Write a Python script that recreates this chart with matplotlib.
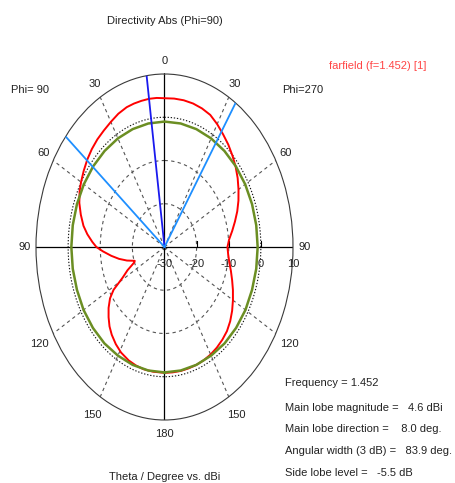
import numpy as np
import matplotlib
matplotlib.use("Agg")
import matplotlib.pyplot as plt

plt.rcParams['font.family'] = ['Liberation Sans', 'DejaVu Sans']

# ---------------- data ----------------
# Red farfield curve: theta (deg) on the Phi=270 side (right) and Phi=90 side (left), directivity in dBi
red_right_theta = [0, 5, 10, 15, 20, 25, 30, 35, 40, 45, 50, 55, 60, 65, 70, 75, 80, 85, 90,
                   95, 100, 105, 110, 115, 120, 125, 130, 135, 140, 145, 150, 155, 160, 165, 170, 175, 180]
red_right_db = [4.4, 4.45, 4.45, 4.35, 4.1, 3.7, 2.8, 1.8, 0.9, -0.1, -1.1, -2.2, -3.4, -4.6, -5.9, -7.3, -8.6, -9.8, -10.4,
                -10.1, -9.5, -8.6, -7.6, -6.5, -5.4, -4.3, -3.3, -2.5, -2.0, -1.6, -1.3, -1.1, -1.0, -0.95, -0.9, -0.9, -0.9]

red_left_theta = [0, 4, 8, 12, 16, 20, 25, 30, 35, 40, 45, 50, 55, 60, 64, 69, 74, 79, 83, 87, 90,
                  93, 97, 101, 105, 109, 110.5, 112, 115, 118.5, 122, 125, 129, 133, 137, 141, 146, 151,
                  157, 162, 167, 173, 180]
red_left_db = [4.4, 4.55, 4.6, 4.55, 4.5, 4.4, 4.0, 3.4, 2.9, 2.5, 2.0, 1.4, 0.7, 0.0, -0.6, -1.6, -2.9, -4.3, -5.8, -7.5, -8.8,
               -10.8, -13.3, -15.6, -17.9, -20.2, -20.0, -19.3, -17.3, -15.2, -11.3, -9.3, -7.6, -6.2, -4.9, -3.9, -2.9, -2.1,
               -1.5, -1.2, -1.0, -0.95, -0.9]

# Green curve (signed theta: negative = Phi=90 side)
green_theta = list(range(-180, 181, 10))
green_db = [-1.0] * 4 + [-0.9] * 3 + [-1.0] * 23 + [-0.9] * 3 + [-1.0] * 4

# Main lobe and 3 dB beam-width directions (signed theta)
main_lobe_dir = -8.0
beam_edges = [-50.3, 33.6]

# Axis scale
r_min, r_max = -30, 10
radial_ticks = [-30, -20, -10, 0, 10]
angle_label_pos = [0, 30, 60, 90, 120, 150, 180, -150, -120, -90, -60, -30]
angle_label_txt = ['0', '30', '60', '90', '120', '150', '180', '150', '120', '90', '60', '30']

title = "Directivity Abs (Phi=90)"
legend_txt = "farfield (f=1.452) [1]"
xlabel = "Theta / Degree vs. dBi"
info_lines = ["Frequency = 1.452",
              "Main lobe magnitude =   4.6 dBi",
              "Main lobe direction =    8.0 deg.",
              "Angular width (3 dB) =   83.9 deg.",
              "Side lobe level =   -5.5 dB"]

# ---------------- figure ----------------
W, H = 455, 483
fig = plt.figure(figsize=(W / 100, H / 100), dpi=100)
fig.patch.set_facecolor('white')

ax = fig.add_axes([36 / W, 1 - 420 / H, 257 / W, 346 / H], projection='polar')
ax.set_aspect('auto')
ax.set_theta_zero_location('N')
ax.set_theta_direction(-1)
ax.set_ylim(r_min, r_max)
ax.set_xticks([])
ax.set_yticks([])
ax.grid(False)
ax.spines['polar'].set_color('#3a3a3a')
ax.spines['polar'].set_linewidth(0.8)

# grid circles
tt = np.linspace(0, 2 * np.pi, 721)
for rv in (-20, -10):
    ax.plot(tt, np.full_like(tt, rv), color='#555555', lw=0.8, ls=(0, (3, 3)))
ax.plot(tt, np.full_like(tt, 0), color='#111111', lw=0.8, ls=(0, (1.2, 1.6)))

# spokes
for a in (30, 60, 120, 150, 210, 240, 300, 330):
    ax.plot(np.radians([a, a]), [r_min, r_max], color='#555555', lw=0.8, ls=(0, (3, 3)))
for a in (0, 90, 180, 270):
    ax.plot(np.radians([a, a]), [r_min, r_max], color='black', lw=0.9)

# small ticks on the right horizontal axis
ax.plot(np.radians([90] * 4), radial_ticks[1:], ls='none', marker=2, ms=4, mew=0.8, color='black')

# curves
red_theta = [-t for t in red_left_theta[::-1]] + red_right_theta[1:]
red_db = red_left_db[::-1] + red_right_db[1:]
ax.plot(np.radians(red_theta), red_db, color='#ff0000', lw=1.4, zorder=5)
ax.plot(np.radians(green_theta), green_db, color='#6b8e23', lw=1.8, zorder=6)

ax.plot(np.radians([main_lobe_dir] * 2), [r_min, r_max], color='#1a1aee', lw=1.3, zorder=7)
for b in beam_edges:
    ax.plot(np.radians([b, b]), [r_min, r_max], color='#1e8fff', lw=1.3, zorder=7)

# radial labels
for v in radial_ticks:
    ax.annotate(str(v), xy=(np.pi / 2, v), xytext=(0, -12), textcoords='offset points',
                ha='center', va='center', fontsize=8, color='#222222')

# angular labels
for a, lab in zip(angle_label_pos, angle_label_txt):
    if abs(a) == 0:
        rr = 13.0
    elif abs(a) == 180:
        rr = 13.3
    elif abs(a) >= 120:
        rr = 14.8
    else:
        rr = 13.6
    ax.text(np.radians(a), rr, lab, ha='center', va='center', fontsize=8, color='#222222')

# texts
def fy(y):
    return 1 - y / H

fig.text(165 / W, fy(20.7), title, ha='center', va='center', fontsize=8, color='#222222')
fig.text(329 / W, fy(65.7), legend_txt, ha='left', va='center', fontsize=8, color='#ff4545')
fig.text(10.7 / W, fy(90), "Phi= 90", ha='left', va='center', fontsize=8, color='#222222')
fig.text(281.7 / W, fy(90), "Phi=270", ha='left', va='center', fontsize=8, color='#222222')
fig.text(165 / W, fy(476.5), xlabel, ha='center', va='center', fontsize=8, color='#222222')
for yy, line in zip([383.3, 407.7, 429.3, 451.0, 473.3], info_lines):
    fig.text(285 / W, fy(yy), line, ha='left', va='center', fontsize=8, color='#222222')

fig.savefig('out.png', dpi=100, facecolor='white')
